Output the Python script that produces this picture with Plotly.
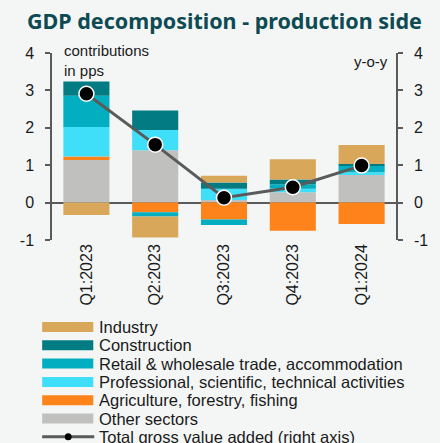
import plotly.graph_objects as go

quarters = ["Q1:2023", "Q2:2023", "Q3:2023", "Q4:2023", "Q1:2024"]
other = [1.14, 1.40, 0.07, 0.28, 0.74]
agriculture = [0.09, -0.26, -0.45, -0.75, -0.57]
professional = [0.79, 0.54, 0.30, 0.09, 0.07]
retail = [0.84, -0.11, -0.15, 0.12, 0.17]
construction = [0.38, 0.52, 0.17, 0.13, 0.05]
industry = [-0.33, -0.56, 0.18, 0.54, 0.51]
total_gva = [2.91, 1.55, 0.13, 0.41, 0.99]

series = [
    ("Other sectors", other, "#C0C1BE"),
    ("Agriculture, forestry, fishing", agriculture, "#FD831A"),
    ("Professional, scientific, technical activities", professional, "#40DFF9"),
    ("Retail & wholesale trade, accommodation", retail, "#02AEBF"),
    ("Construction", construction, "#027B82"),
    ("Industry", industry, "#D9A75A"),
]
legend_order = ["Industry", "Construction", "Retail & wholesale trade, accommodation",
                "Professional, scientific, technical activities",
                "Agriculture, forestry, fishing", "Other sectors"]

BG = "#F4F6F6"
AX = "#5A5A5A"
FONT = "Liberation Sans"
LFONT = "Liberation Sans"
TFONT = "Noto Sans"

fig = go.Figure()
for name, vals, col in series:
    fig.add_trace(go.Bar(x=quarters, y=vals, name=name, marker_color=col,
                         marker_line_width=0, width=0.67, showlegend=False))

fig.add_trace(go.Scatter(x=quarters, y=total_gva, yaxis="y2", mode="lines+markers",
                         line=dict(color=AX, width=3),
                         marker=dict(color="black", size=15, line=dict(color="white", width=1.5)),
                         showlegend=False))

W, H = 440, 443
L, R, T, B = 52, 38, 53, 203
pw, ph = W - L - R, H - T - B

def px(X):
    return (X - L) / pw

def py(Y):
    return (H - B - Y) / ph

shapes = []
annotations = []
colors = {n: c for n, _, c in series}
row_y = [327, 345.3, 363.6, 381.9, 400.2, 418.5]
for nm, yy in zip(legend_order, row_y):
    shapes.append(dict(type="rect", xref="paper", yref="paper",
                       x0=px(42), x1=px(94), y0=py(yy + 5), y1=py(yy - 5),
                       fillcolor=colors[nm], line_width=0))
    annotations.append(dict(text=nm, xref="paper", yref="paper", x=px(98), y=py(yy),
                            xanchor="left", yanchor="middle", showarrow=False,
                            font=dict(family=LFONT, size=16.5, color="#1a1a1a")))
ly = 436.7
shapes.append(dict(type="line", xref="paper", yref="paper", x0=px(42), x1=px(95),
                   y0=py(ly), y1=py(ly), line=dict(color=AX, width=3)))
shapes.append(dict(type="circle", xref="paper", yref="paper", x0=px(65), x1=px(72),
                   y0=py(ly + 3.5), y1=py(ly - 3.5), fillcolor="black", line_width=0))
annotations.append(dict(text="Total gross value added (right axis)", xref="paper", yref="paper",
                        x=px(98), y=py(ly), xanchor="left", yanchor="middle", showarrow=False,
                        font=dict(family=LFONT, size=16.5, color="#1a1a1a")))

annotations.append(dict(text="contributions<br>in pps", xref="paper", yref="paper",
                        x=px(62), y=py(40), xanchor="left", yanchor="top", align="left",
                        showarrow=False, font=dict(family=LFONT, size=15, color="#1a1a1a")))
annotations.append(dict(text="y-o-y", xref="paper", yref="paper",
                        x=px(396), y=py(62), xanchor="right", yanchor="middle",
                        showarrow=False, font=dict(family=LFONT, size=15, color="#1a1a1a")))

axis_common = dict(range=[-1, 4], tickvals=[-1, 0, 1, 2, 3, 4],
                   ticktext=["-1", "0", "1", "2", "3", "4"],
                   showgrid=False, showline=True, linecolor=AX, linewidth=1.5,
                   ticks="outside", ticklen=5, tickwidth=1.5, tickcolor=AX,
                   tickfont=dict(family=FONT, size=16, color="#1a1a1a"),
                   ticklabelstandoff=8)

fig.update_layout(
    width=W, height=H,
    margin=dict(l=L, r=R, t=T, b=B),
    paper_bgcolor=BG, plot_bgcolor=BG,
    barmode="relative",
    title=dict(text="<b>GDP decomposition - production side</b>", x=27 / W, xanchor="left",
               y=1 - 21 / H, yanchor="middle",
               font=dict(family=TFONT, size=21.5, color="#0D4A52")),
    xaxis=dict(range=[-0.5, 4.5], showgrid=False, showline=False, ticks="",
               tickangle=-90, tickfont=dict(family=FONT, size=16, color="#1a1a1a")),
    yaxis=dict(**axis_common, zeroline=True, zerolinecolor=AX, zerolinewidth=2),
    yaxis2=dict(**axis_common, overlaying="y", side="right", zeroline=False),
    shapes=shapes,
    annotations=annotations,
)

fig.write_html("out.html", config={"displayModeBar": False},
               post_script="document.body.style.margin='0';document.body.style.padding='0';"
                           "document.documentElement.style.background='" + BG + "';")
